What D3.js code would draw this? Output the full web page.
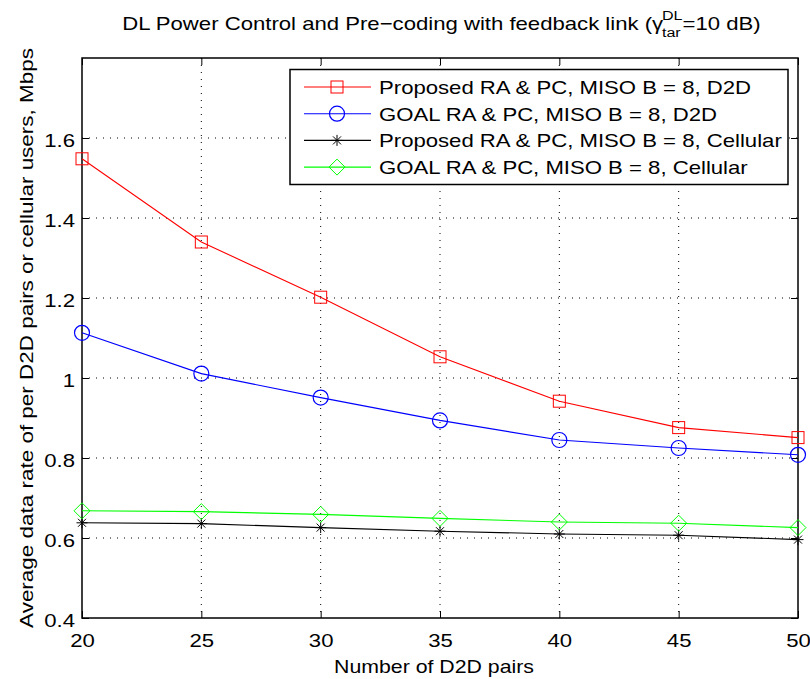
<!DOCTYPE html>
<html>
<head>
<meta charset="utf-8">
<script src="https://cdn.jsdelivr.net/npm/d3@7"></script>
<style>
  body { margin: 0; background: #fff; }
  svg { display: block; }
  text { font-family: "Liberation Sans", Arial, sans-serif; fill: #000; }
</style>
</head>
<body>
<div id="chart"></div>
<script>
// data
const d2dPairs = [20, 25, 30, 35, 40, 45, 50];
const proposedD2D = [1.548, 1.340, 1.202, 1.053, 0.942, 0.876, 0.851];
const goalD2D = [1.113, 1.011, 0.951, 0.894, 0.845, 0.825, 0.808];
const proposedCell = [0.638, 0.636, 0.626, 0.617, 0.610, 0.607, 0.596];
const goalCell = [0.668, 0.666, 0.659, 0.649, 0.640, 0.637, 0.626];

const xTicks = [20, 25, 30, 35, 40, 45, 50];
const yTicks = [0.4, 0.6, 0.8, 1.0, 1.2, 1.4, 1.6];

const seriesNames = [
  "Proposed RA & PC, MISO B = 8, D2D",
  "GOAL RA & PC, MISO B = 8, D2D",
  "Proposed RA & PC, MISO B = 8, Cellular",
  "GOAL RA & PC, MISO B = 8, Cellular"
];
const seriesColors = ["#ff0000", "#0000ff", "#000000", "#00ff00"];
const seriesMarkers = ["square", "circle", "star", "diamond"];
const seriesValues = [proposedD2D, goalD2D, proposedCell, goalCell];

const width = 810, height = 679;
const margin = { top: 58, right: 12, bottom: 61, left: 82 };
const innerW = width - margin.left - margin.right;
const innerH = height - margin.top - margin.bottom;

// the figure text is a bit wider than normal (stretched export)
const fontSize = 18.6;
const stretchX = 1.19;

function widen(sel, k) {
  sel.each(function () {
    const len = this.getComputedTextLength();
    d3.select(this).attr("textLength", len * k).attr("lengthAdjust", "spacingAndGlyphs");
  });
}

const svg = d3.select("#chart").append("svg")
  .attr("width", width)
  .attr("height", height);

const g = svg.append("g")
  .attr("transform", `translate(${margin.left},${margin.top})`);

const x = d3.scaleLinear().domain([20, 50]).range([0, innerW]);
const y = d3.scaleLinear().domain([0.4, 1.8]).range([innerH, 0]);

// dotted grid
g.selectAll(".gx").data(xTicks.slice(1, -1)).enter().append("line")
  .attr("x1", d => x(d)).attr("x2", d => x(d))
  .attr("y1", 0).attr("y2", innerH)
  .attr("stroke", "#000").attr("stroke-width", 1)
  .attr("stroke-dasharray", "1,6");
g.selectAll(".gy").data(yTicks.slice(1)).enter().append("line")
  .attr("x1", 0).attr("x2", innerW)
  .attr("y1", d => y(d)).attr("y2", d => y(d))
  .attr("stroke", "#000").attr("stroke-width", 1)
  .attr("stroke-dasharray", "1,6");

// axes (ticks pointing inward, labels only on bottom/left)
const tickLen = 7;

const xAxis = d3.axisBottom(x).tickValues(xTicks).tickSize(-tickLen).tickFormat(d3.format("d"));
const yAxis = d3.axisLeft(y).tickValues(yTicks).tickSize(-tickLen)
  .tickFormat(d => d === 1 ? "1" : d3.format(".1f")(d));

const gx = g.append("g").attr("transform", `translate(0,${innerH})`).call(xAxis);
const gy = g.append("g").call(yAxis);
g.append("g").call(d3.axisTop(x).tickValues(xTicks).tickSize(-tickLen).tickFormat(""));
g.append("g").attr("transform", `translate(${innerW},0)`)
  .call(d3.axisRight(y).tickValues(yTicks).tickSize(-tickLen).tickFormat(""));

g.selectAll(".domain").remove();
g.selectAll(".tick line").attr("stroke", "#000").attr("stroke-width", 1);
g.selectAll(".tick text").attr("font-size", fontSize)
  .attr("font-family", "Liberation Sans, Arial, sans-serif").attr("fill", "#000");
gx.selectAll(".tick text").attr("y", 29).attr("dy", null);
gy.selectAll(".tick text").attr("x", -7).attr("dy", 8);
widen(g.selectAll(".tick text"), stretchX);

g.append("rect")
  .attr("x", 0).attr("y", 0).attr("width", innerW).attr("height", innerH)
  .attr("fill", "none").attr("stroke", "#000").attr("stroke-width", 1.5);

// markers
function drawMarker(sel, type, color) {
  if (type === "square") {
    sel.append("rect").attr("x", -6).attr("y", -6).attr("width", 12).attr("height", 12)
      .attr("fill", "none").attr("stroke", color).attr("stroke-width", 1);
  } else if (type === "circle") {
    sel.append("circle").attr("r", 7.5)
      .attr("fill", "none").attr("stroke", color).attr("stroke-width", 1.2);
  } else if (type === "diamond") {
    sel.append("path").attr("d", "M0,-8L8,0L0,8L-8,0Z")
      .attr("fill", "none").attr("stroke", color).attr("stroke-width", 1);
  } else if (type === "star") {
    sel.append("path").attr("d", "M-5.5,0L5.5,0M0,-5.5L0,5.5M-4,-4L4,4M-4,4L4,-4")
      .attr("fill", "none").attr("stroke", color).attr("stroke-width", 1);
  }
}

const line = d3.line().x((d, i) => x(d2dPairs[i])).y(d => y(d));

const plot = g.append("g");
seriesValues.forEach((vals, s) => {
  plot.append("path").datum(vals)
    .attr("d", line)
    .attr("fill", "none")
    .attr("stroke", seriesColors[s])
    .attr("stroke-width", 1.1);
  plot.selectAll(".m" + s).data(vals).enter().append("g")
    .attr("transform", (d, i) => `translate(${x(d2dPairs[i])},${y(d)})`)
    .each(function () { drawMarker(d3.select(this), seriesMarkers[s], seriesColors[s]); });
});

// legend
const legX = 290 - margin.left, legY = 69.5 - margin.top;
const legW = 498, legH = 115;
const legend = g.append("g").attr("transform", `translate(${legX},${legY})`);
legend.append("rect").attr("width", legW).attr("height", legH)
  .attr("fill", "#fff").attr("stroke", "#000").attr("stroke-width", 1.5);
seriesNames.forEach((name, s) => {
  const ry = 17.5 + s * 26.7;
  const row = legend.append("g").attr("transform", `translate(0,${ry})`);
  row.append("line").attr("x1", 14).attr("x2", 81).attr("y1", 0).attr("y2", 0)
    .attr("stroke", seriesColors[s]).attr("stroke-width", 1.1);
  drawMarker(row.append("g").attr("transform", "translate(47,0)"), seriesMarkers[s], seriesColors[s]);
  const t = row.append("text").attr("x", 89).attr("y", 7).attr("font-size", fontSize).text(name);
  widen(t, stretchX);
});

// axis labels
const xl = svg.append("text")
  .attr("x", 0).attr("y", 0)
  .attr("text-anchor", "middle").attr("font-size", fontSize)
  .text("Number of D2D pairs");
const xlLen = xl.node().getComputedTextLength();
xl.attr("transform", `translate(434,673) scale(${200 / xlLen},1)`);

const yl = svg.append("text")
  .attr("x", 0).attr("y", 0)
  .attr("text-anchor", "middle").attr("font-size", fontSize)
  .text("Average data rate of per D2D pairs or cellular users, Mbps");
const ylLen = yl.node().getComputedTextLength();
yl.attr("transform", `translate(33,338) rotate(-90) scale(${580 / ylLen},1)`);

// title with stacked super/subscript, widened as a group
const title = svg.append("g");
const inner = title.append("g");
const t1 = inner.append("text").attr("font-size", fontSize).attr("y", 30)
  .text("DL Power Control and Pre\u2212coding with feedback link (\u03B3");
const w1 = t1.node().getComputedTextLength();
const tSup = inner.append("text").attr("font-size", 13.5).attr("y", 20).text("DL");
const tSub = inner.append("text").attr("font-size", 13.5).attr("y", 37).text("tar");
const wScript = Math.max(tSup.node().getComputedTextLength(), tSub.node().getComputedTextLength());
const t3 = inner.append("text").attr("font-size", fontSize).attr("y", 30).text("=10 dB)");
const w3 = t3.node().getComputedTextLength();
const total = w1 + wScript + w3;
t1.attr("x", 0);
tSup.attr("x", w1 - 1);
tSub.attr("x", w1 - 1);
t3.attr("x", w1 + wScript - 1);
title.attr("transform", `translate(${442 - total * stretchX / 2},0) scale(${stretchX},1)`);
</script>
</body>
</html>
